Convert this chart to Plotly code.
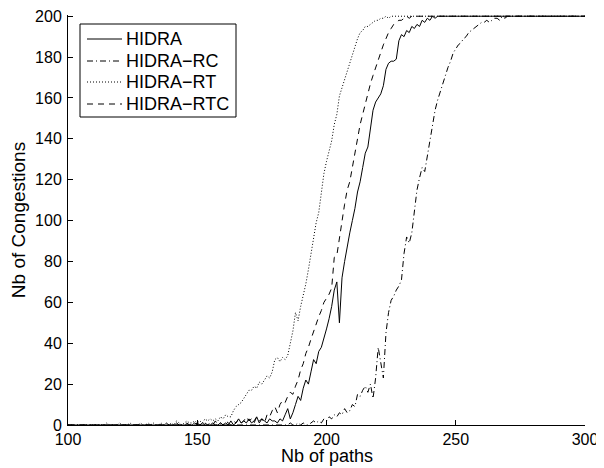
import plotly.graph_objects as go

nb_paths = list(range(100, 301))

hidra = [
    0, 0, 0, 0, 0, 0, 0, 0, 0, 0,
    0, 0, 0, 0, 0, 0, 0, 0, 0, 0,
    0, 0, 0, 0, 0, 0, 0, 0, 0, 0,
    0, 0, 0, 0, 0, 0, 0, 0, 0, 0,
    0, 0, 0, 0, 0, 0, 0, 0, 0, 1,
    0, 0, 1, 0, 0, 0, 1, 0, 0, 1,
    0, 1, 0, 2, 0, 1, 3, 1, 2, 1,
    3, 1, 2, 4, 1, 3, 2, 1, 3, 2,
    2, 1, 3, 2, 5, 8, 3, 6, 10, 14,
    12, 18, 22, 20, 26, 32, 30, 36, 38, 42,
    47, 52, 58, 66, 70, 50, 72, 80, 88, 94,
    100, 106, 114, 119, 126, 133, 136, 145, 154, 158,
    160, 162, 166, 174, 177, 178, 178, 179, 188, 191,
    190, 193, 192, 195, 194, 196, 195, 198, 197, 199,
    198, 200, 199, 200, 200, 200, 200, 200, 200, 200,
    200, 200, 200, 200, 200, 200, 200, 200, 200, 200,
    200, 200, 200, 200, 200, 200, 200, 200, 200, 200,
    200, 200, 200, 200, 200, 200, 200, 200, 200, 200,
    200, 200, 200, 200, 200, 200, 200, 200, 200, 200,
    200, 200, 200, 200, 200, 200, 200, 200, 200, 200,
    200,
]

hidra_rc = [
    0, 0, 0, 0, 0, 0, 0, 0, 0, 0,
    0, 0, 0, 0, 0, 0, 0, 0, 0, 0,
    0, 0, 0, 0, 0, 0, 0, 0, 0, 0,
    0, 0, 0, 0, 0, 0, 0, 0, 0, 0,
    0, 0, 0, 0, 0, 0, 0, 0, 0, 0,
    0, 0, 0, 0, 0, 0, 0, 0, 0, 0,
    0, 0, 0, 0, 0, 0, 0, 0, 0, 0,
    0, 0, 0, 0, 0, 0, 0, 0, 0, 0,
    0, 0, 0, 0, 0, 0, 1, 0, 0, 1,
    0, 1, 0, 0, 1, 2, 1, 2, 1, 3,
    2, 4, 3, 5, 4, 6, 5, 8, 6, 7,
    10, 9, 15, 14, 17, 19, 16, 20, 13, 23,
    38, 30, 23, 45, 55, 61, 63, 66, 68, 71,
    84, 92, 89, 94, 106, 115, 121, 126, 124, 132,
    138, 147, 154, 159, 163, 168, 171, 175, 178, 182,
    184, 186, 187, 189, 190, 192, 193, 194, 195, 196,
    197, 197, 198, 197, 198, 199, 199, 198, 200, 199,
    200, 200, 200, 200, 200, 200, 200, 200, 200, 200,
    200, 200, 200, 200, 200, 200, 200, 200, 200, 200,
    200, 200, 200, 200, 200, 200, 200, 200, 200, 200,
    200,
]

hidra_rt = [
    0, 0, 0, 0, 0, 0, 0, 0, 0, 0,
    0, 0, 0, 0, 0, 1, 0, 0, 0, 0,
    1, 0, 0, 0, 1, 0, 0, 0, 1, 0,
    0, 1, 0, 1, 0, 0, 1, 0, 1, 0,
    1, 0, 2, 1, 0, 1, 2, 1, 1, 2,
    1, 2, 1, 3, 2, 3, 2, 3, 2, 4,
    3, 5, 4, 4, 7, 9, 10, 11, 13, 15,
    17, 17, 19, 18, 21, 20, 22, 24, 23, 26,
    32, 33, 31, 33, 32, 34, 40, 46, 55, 51,
    58, 63, 69, 76, 84, 90, 99, 104, 113, 123,
    129, 134, 139, 147, 152, 161, 165, 169, 174, 178,
    182, 186, 189, 192, 193, 195, 195, 196, 197, 198,
    198, 199, 199, 200, 199, 200, 200, 200, 200, 200,
    200, 200, 200, 200, 200, 200, 200, 200, 200, 200,
    200, 200, 200, 200, 200, 200, 200, 200, 200, 200,
    200, 200, 200, 200, 200, 200, 200, 200, 200, 200,
    200, 200, 200, 200, 200, 200, 200, 200, 200, 200,
    200, 200, 200, 200, 200, 200, 200, 200, 200, 200,
    200, 200, 200, 200, 200, 200, 200, 200, 200, 200,
    200, 200, 200, 200, 200, 200, 200, 200, 200, 200,
    200,
]

hidra_rtc = [
    0, 0, 0, 0, 0, 0, 0, 0, 0, 0,
    0, 0, 0, 0, 0, 0, 0, 0, 0, 0,
    0, 0, 0, 0, 0, 0, 0, 0, 0, 0,
    0, 0, 0, 0, 0, 0, 0, 0, 1, 0,
    0, 0, 1, 0, 0, 0, 1, 0, 0, 0,
    1, 0, 0, 1, 0, 1, 0, 2, 0, 1,
    0, 2, 1, 0, 2, 1, 3, 1, 2, 4,
    2, 3, 1, 4, 2, 3, 1, 5, 4, 7,
    9, 6, 10, 12, 11, 14, 16, 15, 19, 22,
    27, 30, 35, 38, 42, 46, 50, 53, 56, 60,
    62, 64, 67, 82, 83, 92, 100, 108, 115, 119,
    126, 134, 140, 147, 152, 158, 163, 167, 171, 175,
    178, 182, 186, 189, 192, 194, 196, 197, 198, 198,
    199, 200, 199, 200, 200, 200, 200, 200, 200, 200,
    200, 200, 200, 200, 200, 200, 200, 200, 200, 200,
    200, 200, 200, 200, 200, 200, 200, 200, 200, 200,
    200, 200, 200, 200, 200, 200, 200, 200, 200, 200,
    200, 200, 200, 200, 200, 200, 200, 200, 200, 200,
    200, 200, 200, 200, 200, 200, 200, 200, 200, 200,
    200, 200, 200, 200, 200, 200, 200, 200, 200, 200,
    200,
]

series_names = ["HIDRA", "HIDRA\u2212RC", "HIDRA\u2212RT", "HIDRA\u2212RTC"]
series_values = [hidra, hidra_rc, hidra_rt, hidra_rtc]
dash_styles = ["solid", "6px,3px,1px,3px", "1px,2px", "6px,5px"]

x_ticks = [100, 150, 200, 250, 300]
y_ticks = [0, 20, 40, 60, 80, 100, 120, 140, 160, 180, 200]
x_title = "Nb of paths"
y_title = "Nb of Congestions"

for vals in series_values:
    assert len(vals) == len(nb_paths), len(vals)

FONT = "Liberation Sans, Arial, Helvetica, sans-serif"

# figure geometry (the page body adds an 8px offset)
FIG_W, FIG_H = 596, 460
M_L, M_R, M_T, M_B = 60, 19, 7, 43
PLOT_W = FIG_W - M_L - M_R
PLOT_H = FIG_H - M_T - M_B


def fx(px_page):
    return (px_page - 8 - M_L) / PLOT_W


def fy(py_page):
    return (FIG_H - M_B - (py_page - 8)) / PLOT_H


fig = go.Figure()
for name, vals, dash in zip(series_names, series_values, dash_styles):
    fig.add_trace(go.Scatter(
        x=nb_paths, y=vals, mode="lines", name=name, showlegend=False,
        line=dict(color="black", width=1, dash=dash),
    ))

axis_common = dict(
    showline=True, linecolor="black", linewidth=1,
    ticks="inside", ticklen=5, tickcolor="black", tickwidth=1,
    showgrid=False, zeroline=False, mirror=False,
    tickfont=dict(family=FONT, size=16, color="black"),
    ticklabeloverflow="allow", automargin=False,
)

# legend drawn as a boxed key
shapes = [dict(type="rect", xref="paper", yref="paper",
               x0=fx(80), x1=fx(236), y0=fy(117), y1=fy(24),
               line=dict(color="black", width=1), fillcolor="white", layer="above")]
annotations = []
row_y = [39, 61, 82, 104]
for name, dash, ry in zip(series_names, dash_styles, row_y):
    shapes.append(dict(type="line", xref="paper", yref="paper",
                       x0=fx(87), x1=fx(122), y0=fy(ry), y1=fy(ry),
                       line=dict(color="black", width=1, dash=dash), layer="above"))
    annotations.append(dict(xref="paper", yref="paper", x=fx(124), y=fy(ry),
                            xanchor="left", yanchor="middle", showarrow=False,
                            text=name, font=dict(family=FONT, size=18, color="black")))

# x-axis title placed just under the tick labels
annotations.append(dict(xref="paper", yref="paper", x=0.5, y=fy(456),
                        xanchor="center", yanchor="middle", showarrow=False,
                        text=x_title, font=dict(family=FONT, size=18, color="black")))

fig.update_layout(
    width=FIG_W, height=FIG_H,
    margin=dict(l=M_L, r=M_R, t=M_T, b=M_B, autoexpand=False),
    paper_bgcolor="white", plot_bgcolor="white",
    font=dict(family=FONT, size=16, color="black"),
    xaxis=dict(range=[100, 300], tickvals=x_ticks, ticklabelstandoff=0,
               **axis_common),
    yaxis=dict(range=[0, 200.6], tickvals=y_ticks, ticklabelstandoff=2,
               title=dict(text=y_title, font=dict(family=FONT, size=19), standoff=10),
               **axis_common),
    shapes=shapes,
    annotations=annotations,
    showlegend=False,
)

fig.write_html("out.html")
